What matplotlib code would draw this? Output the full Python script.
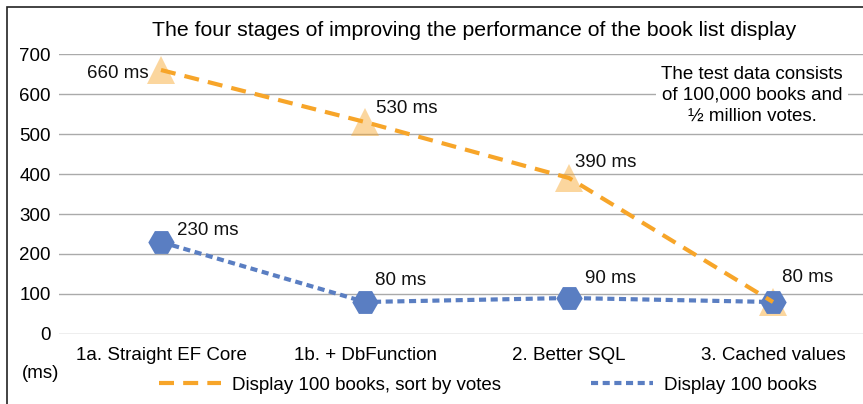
import matplotlib.pyplot as plt
from matplotlib.lines import Line2D
from matplotlib.patches import Rectangle

plt.rcParams['font.family'] = ['Liberation Sans', 'DejaVu Sans']

stages = ["1a. Straight EF Core", "1b. + DbFunction", "2. Better SQL", "3. Cached values"]
sorted_ms = [660, 530, 390, 80]
plain_ms = [230, 80, 90, 80]
sorted_name = "Display 100 books, sort by votes"
plain_name = "Display 100 books"
yticks = [0, 100, 200, 300, 400, 500, 600, 700]

orange = "#F7A529"
blue = "#5A7EC2"
fs = 13.5

fig = plt.figure(figsize=(8.63, 4.04), dpi=100)
W, H = 863, 404
# plot area in pixels: x 59..875, y 54..334
ax = fig.add_axes([59 / W, (H - 334) / H, 816 / W, 280 / H])
x = list(range(len(stages)))

ax.plot(x, plain_ms, color=blue, lw=3.0, dashes=(1.7, 1.1), zorder=2)
ax.plot(x, sorted_ms, ls="none", marker="^", ms=20, color=orange, alpha=0.45,
        markeredgewidth=0, zorder=3)
ax.plot(x, plain_ms, ls="none", marker="H", ms=19, color=blue,
        markeredgewidth=0, zorder=4)
ax.plot(x, sorted_ms, color=orange, lw=3.0, dashes=(3.6, 2.2), zorder=5)

ax.set_xlim(-0.5, 3.5)
ax.set_ylim(0, 700)
ax.set_yticks(yticks)
ax.set_xticks(x)
ax.set_xticklabels(stages, fontsize=fs)
ax.tick_params(axis="y", labelsize=fs, length=0, pad=6)
ax.tick_params(axis="x", length=0, pad=9)
ax.grid(axis="y", color="#AAAAAA", lw=1.0)
ax.set_axisbelow(True)
for s in ax.spines.values():
    s.set_visible(False)

# data labels: (x offset, y offset, alignment)
lbl = dict(fontsize=fs, color="#111111", va="center", zorder=6)
sorted_pos = [(-0.06, -8, "right"), (0.054, 33, "left"), (0.03, 40, "left"), (0.044, 60, "left")]
for i, v in enumerate(sorted_ms):
    dx, dy, ha = sorted_pos[i]
    ax.text(i + dx, v + dy, f"{v} ms", ha=ha, **lbl)
plain_pos = [(0.078, 28), (0.049, 53), (0.078, 48)]
for i, v in enumerate(plain_ms[:3]):
    dx, dy = plain_pos[i]
    ax.text(i + dx, v + dy, f"{v} ms", ha="left", **lbl)

# note box
fig.text(752 / W, 1 - 95 / H, "The test data consists\nof 100,000 books and\n½ million votes.",
         ha="center", va="center", fontsize=fs, linespacing=1.3, zorder=7,
         bbox=dict(facecolor="white", edgecolor="none", pad=4))

fig.text(474 / W, 1 - 31 / H,
         "The four stages of improving the performance of the book list display",
         ha="center", va="center", fontsize=15.3)
fig.text(22 / W, 1 - 373 / H, "(ms)", ha="left", va="center", fontsize=fs)

handles = [Line2D([], [], color=orange, lw=3.0, dashes=(3.6, 2.2)),
           Line2D([], [], color=blue, lw=3.0, dashes=(1.7, 1.1))]
fig.legend(handles, [sorted_name, plain_name], ncol=2, loc="center",
           bbox_to_anchor=(488 / W, 1 - 385 / H), frameon=False, fontsize=fs,
           handlelength=3.3, columnspacing=4.8, handletextpad=0.6)

# chart border (left and top edge)
fig.add_artist(Rectangle((7 / W, -0.1), 1.2, (1 - 7 / H) + 0.1, transform=fig.transFigure,
                         fill=False, edgecolor="#222222", lw=1.2))

fig.savefig("out.png", dpi=100)
